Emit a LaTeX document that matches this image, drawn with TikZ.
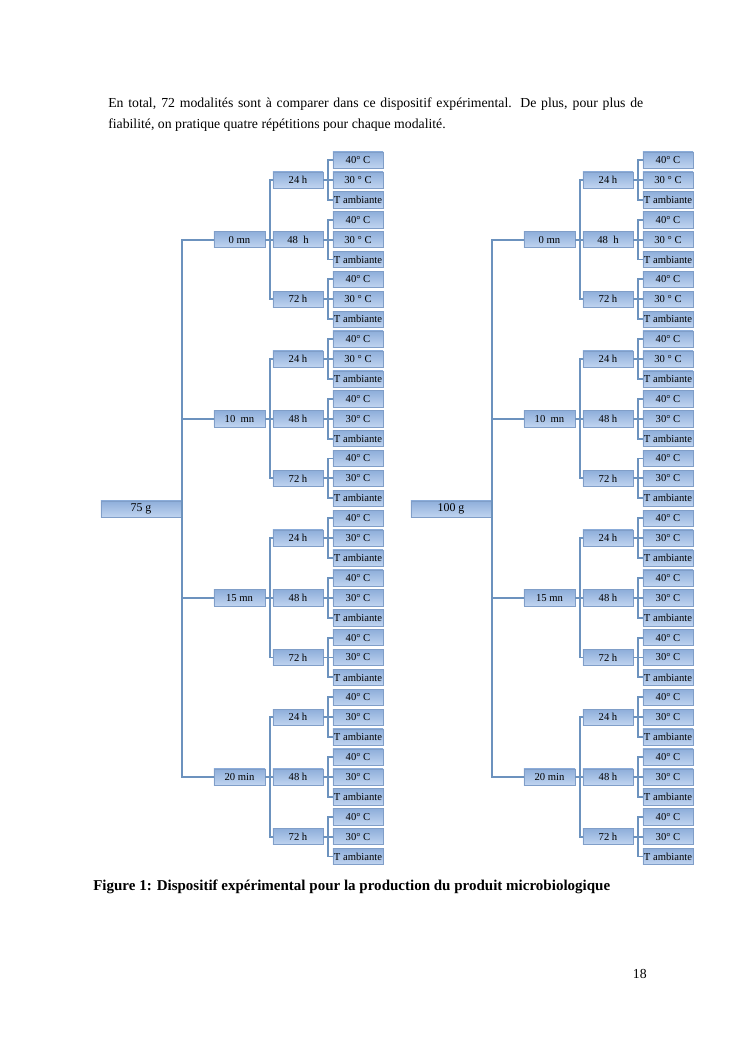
\documentclass[tikz,border=0pt]{standalone}
\usepackage{fontspec}
\setmainfont{Liberation Serif}
\definecolor{boxtop}{RGB}{142,174,218}
\definecolor{boxbot}{RGB}{192,212,240}
\definecolor{boxline}{RGB}{128,158,200}
\definecolor{linkcol}{RGB}{108,146,190}
\tikzset{
  cell/.style={draw=boxline, line width=0.4pt, top color=boxtop, bottom color=boxbot,
    minimum height=13pt, inner sep=0pt, font=\fontsize{8.5}{9}\selectfont},
  cellleaf/.style={cell, minimum width=40pt},
  cellhour/.style={cell, minimum width=40pt},
  celltime/.style={cell, minimum width=40.8pt},
  cellmass/.style={cell, minimum width=64pt, font=\fontsize{9.5}{10}\selectfont},
  textline/.style={anchor=base west, inner sep=0pt, font=\fontsize{11}{13}\selectfont}
}
\begin{document}
\begin{tikzpicture}[x=0.7992pt, y=-0.7992pt]
      \useasboundingbox (0,0) rectangle (745,1053);
      \node[textline] (para1) at (108,107) {\makebox[427.6pt][s]{En total, 72 modalités sont à comparer dans ce dispositif expérimental. De plus, pour plus de}};
      \node[textline] (para2) at (108,128) {fiabilité, on pratique quatre répétitions pour chaque modalité.};
      \node[textline, font=\bfseries\fontsize{12}{14}\selectfont] (caption) at (93,890) {Figure 1: Dispositif expérimental pour la production du produit microbiologique};
      \node[textline, anchor=base east] (pagenum) at (647,978) {18};
      \draw
        (141,509) node[cellmass] (l0){75 g}
        (239.5,239.6) node[celltime] (l1){0 mn}
        (239.5,418.7) node[celltime] (l2){10~ mn}
        (239.5,597.8) node[celltime] (l3){15 mn}
        (239.5,776.9) node[celltime] (l4){20 min}
        (298,179.9) node[cellhour] (l11){24 h}
        (298,239.6) node[cellhour] (l12){48~ h}
        (298,299.3) node[cellhour] (l13){72 h}
        (298,359.0) node[cellhour] (l21){24 h}
        (298,418.7) node[cellhour] (l22){48 h}
        (298,478.4) node[cellhour] (l23){72 h}
        (298,538.1) node[cellhour] (l31){24 h}
        (298,597.8) node[cellhour] (l32){48 h}
        (298,657.5) node[cellhour] (l33){72 h}
        (298,717.2) node[cellhour] (l41){24 h}
        (298,776.9) node[cellhour] (l42){48 h}
        (298,836.6) node[cellhour] (l43){72 h}
        (358,160.0) node[cellleaf] (l111){40° C}
        (358,179.9) node[cellleaf] (l112){30 ° C}
        (358,199.8) node[cellleaf] (l113){T ambiante}
        (358,219.7) node[cellleaf] (l121){40° C}
        (358,239.6) node[cellleaf] (l122){30 ° C}
        (358,259.5) node[cellleaf] (l123){T ambiante}
        (358,279.4) node[cellleaf] (l131){40° C}
        (358,299.3) node[cellleaf] (l132){30 ° C}
        (358,319.2) node[cellleaf] (l133){T ambiante}
        (358,339.1) node[cellleaf] (l211){40° C}
        (358,359.0) node[cellleaf] (l212){30 ° C}
        (358,378.9) node[cellleaf] (l213){T ambiante}
        (358,398.8) node[cellleaf] (l221){40° C}
        (358,418.7) node[cellleaf] (l222){30° C}
        (358,438.6) node[cellleaf] (l223){T ambiante}
        (358,458.5) node[cellleaf] (l231){40° C}
        (358,478.4) node[cellleaf] (l232){30° C}
        (358,498.3) node[cellleaf] (l233){T ambiante}
        (358,518.2) node[cellleaf] (l311){40° C}
        (358,538.1) node[cellleaf] (l312){30° C}
        (358,558.0) node[cellleaf] (l313){T ambiante}
        (358,577.9) node[cellleaf] (l321){40° C}
        (358,597.8) node[cellleaf] (l322){30° C}
        (358,617.7) node[cellleaf] (l323){T ambiante}
        (358,637.6) node[cellleaf] (l331){40° C}
        (358,657.5) node[cellleaf] (l332){30° C}
        (358,677.4) node[cellleaf] (l333){T ambiante}
        (358,697.3) node[cellleaf] (l411){40° C}
        (358,717.2) node[cellleaf] (l412){30° C}
        (358,737.1) node[cellleaf] (l413){T ambiante}
        (358,757.0) node[cellleaf] (l421){40° C}
        (358,776.9) node[cellleaf] (l422){30° C}
        (358,796.8) node[cellleaf] (l423){T ambiante}
        (358,816.7) node[cellleaf] (l431){40° C}
        (358,836.6) node[cellleaf] (l432){30° C}
        (358,856.5) node[cellleaf] (l433){T ambiante};
      \draw
        (451,509) node[cellmass] (r0){100 g}
        (549.5,239.6) node[celltime] (r1){0 mn}
        (549.5,418.7) node[celltime] (r2){10~ mn}
        (549.5,597.8) node[celltime] (r3){15 mn}
        (549.5,776.9) node[celltime] (r4){20 min}
        (608,179.9) node[cellhour] (r11){24 h}
        (608,239.6) node[cellhour] (r12){48~ h}
        (608,299.3) node[cellhour] (r13){72 h}
        (608,359.0) node[cellhour] (r21){24 h}
        (608,418.7) node[cellhour] (r22){48 h}
        (608,478.4) node[cellhour] (r23){72 h}
        (608,538.1) node[cellhour] (r31){24 h}
        (608,597.8) node[cellhour] (r32){48 h}
        (608,657.5) node[cellhour] (r33){72 h}
        (608,717.2) node[cellhour] (r41){24 h}
        (608,776.9) node[cellhour] (r42){48 h}
        (608,836.6) node[cellhour] (r43){72 h}
        (668,160.0) node[cellleaf] (r111){40° C}
        (668,179.9) node[cellleaf] (r112){30 ° C}
        (668,199.8) node[cellleaf] (r113){T ambiante}
        (668,219.7) node[cellleaf] (r121){40° C}
        (668,239.6) node[cellleaf] (r122){30 ° C}
        (668,259.5) node[cellleaf] (r123){T ambiante}
        (668,279.4) node[cellleaf] (r131){40° C}
        (668,299.3) node[cellleaf] (r132){30 ° C}
        (668,319.2) node[cellleaf] (r133){T ambiante}
        (668,339.1) node[cellleaf] (r211){40° C}
        (668,359.0) node[cellleaf] (r212){30 ° C}
        (668,378.9) node[cellleaf] (r213){T ambiante}
        (668,398.8) node[cellleaf] (r221){40° C}
        (668,418.7) node[cellleaf] (r222){30° C}
        (668,438.6) node[cellleaf] (r223){T ambiante}
        (668,458.5) node[cellleaf] (r231){40° C}
        (668,478.4) node[cellleaf] (r232){30° C}
        (668,498.3) node[cellleaf] (r233){T ambiante}
        (668,518.2) node[cellleaf] (r311){40° C}
        (668,538.1) node[cellleaf] (r312){30° C}
        (668,558.0) node[cellleaf] (r313){T ambiante}
        (668,577.9) node[cellleaf] (r321){40° C}
        (668,597.8) node[cellleaf] (r322){30° C}
        (668,617.7) node[cellleaf] (r323){T ambiante}
        (668,637.6) node[cellleaf] (r331){40° C}
        (668,657.5) node[cellleaf] (r332){30° C}
        (668,677.4) node[cellleaf] (r333){T ambiante}
        (668,697.3) node[cellleaf] (r411){40° C}
        (668,717.2) node[cellleaf] (r412){30° C}
        (668,737.1) node[cellleaf] (r413){T ambiante}
        (668,757.0) node[cellleaf] (r421){40° C}
        (668,776.9) node[cellleaf] (r422){30° C}
        (668,796.8) node[cellleaf] (r423){T ambiante}
        (668,816.7) node[cellleaf] (r431){40° C}
        (668,836.6) node[cellleaf] (r432){30° C}
        (668,856.5) node[cellleaf] (r433){T ambiante};
      \begin{scope}[color=linkcol, line width=1.5pt, to path={-- ++(1,0) |- (\tikztotarget)}]
        \draw (l0.east) to (l1.west);
        \draw (l0.east) to (l2.west);
        \draw (l0.east) to (l3.west);
        \draw (l0.east) to (l4.west);
        \draw (r0.east) to (r1.west);
        \draw (r0.east) to (r2.west);
        \draw (r0.east) to (r3.west);
        \draw (r0.east) to (r4.west);
      \end{scope}
      \begin{scope}[color=linkcol, line width=1.5pt, to path={-- ++(5,0) |- (\tikztotarget)}]
        \draw (l1.east) to (l11.west);
        \draw (l1.east) to (l12.west);
        \draw (l1.east) to (l13.west);
        \draw (l2.east) to (l21.west);
        \draw (l2.east) to (l22.west);
        \draw (l2.east) to (l23.west);
        \draw (l3.east) to (l31.west);
        \draw (l3.east) to (l32.west);
        \draw (l3.east) to (l33.west);
        \draw (l4.east) to (l41.west);
        \draw (l4.east) to (l42.west);
        \draw (l4.east) to (l43.west);
        \draw (l11.east) to (l111.west);
        \draw (l11.east) to (l112.west);
        \draw (l11.east) to (l113.west);
        \draw (l12.east) to (l121.west);
        \draw (l12.east) to (l122.west);
        \draw (l12.east) to (l123.west);
        \draw (l13.east) to (l131.west);
        \draw (l13.east) to (l132.west);
        \draw (l13.east) to (l133.west);
        \draw (l21.east) to (l211.west);
        \draw (l21.east) to (l212.west);
        \draw (l21.east) to (l213.west);
        \draw (l22.east) to (l221.west);
        \draw (l22.east) to (l222.west);
        \draw (l22.east) to (l223.west);
        \draw (l23.east) to (l231.west);
        \draw (l23.east) to (l232.west);
        \draw (l23.east) to (l233.west);
        \draw (l31.east) to (l311.west);
        \draw (l31.east) to (l312.west);
        \draw (l31.east) to (l313.west);
        \draw (l32.east) to (l321.west);
        \draw (l32.east) to (l322.west);
        \draw (l32.east) to (l323.west);
        \draw (l33.east) to (l331.west);
        \draw (l33.east) to (l332.west);
        \draw (l33.east) to (l333.west);
        \draw (l41.east) to (l411.west);
        \draw (l41.east) to (l412.west);
        \draw (l41.east) to (l413.west);
        \draw (l42.east) to (l421.west);
        \draw (l42.east) to (l422.west);
        \draw (l42.east) to (l423.west);
        \draw (l43.east) to (l431.west);
        \draw (l43.east) to (l432.west);
        \draw (l43.east) to (l433.west);
        \draw (r1.east) to (r11.west);
        \draw (r1.east) to (r12.west);
        \draw (r1.east) to (r13.west);
        \draw (r2.east) to (r21.west);
        \draw (r2.east) to (r22.west);
        \draw (r2.east) to (r23.west);
        \draw (r3.east) to (r31.west);
        \draw (r3.east) to (r32.west);
        \draw (r3.east) to (r33.west);
        \draw (r4.east) to (r41.west);
        \draw (r4.east) to (r42.west);
        \draw (r4.east) to (r43.west);
        \draw (r11.east) to (r111.west);
        \draw (r11.east) to (r112.west);
        \draw (r11.east) to (r113.west);
        \draw (r12.east) to (r121.west);
        \draw (r12.east) to (r122.west);
        \draw (r12.east) to (r123.west);
        \draw (r13.east) to (r131.west);
        \draw (r13.east) to (r132.west);
        \draw (r13.east) to (r133.west);
        \draw (r21.east) to (r211.west);
        \draw (r21.east) to (r212.west);
        \draw (r21.east) to (r213.west);
        \draw (r22.east) to (r221.west);
        \draw (r22.east) to (r222.west);
        \draw (r22.east) to (r223.west);
        \draw (r23.east) to (r231.west);
        \draw (r23.east) to (r232.west);
        \draw (r23.east) to (r233.west);
        \draw (r31.east) to (r311.west);
        \draw (r31.east) to (r312.west);
        \draw (r31.east) to (r313.west);
        \draw (r32.east) to (r321.west);
        \draw (r32.east) to (r322.west);
        \draw (r32.east) to (r323.west);
        \draw (r33.east) to (r331.west);
        \draw (r33.east) to (r332.west);
        \draw (r33.east) to (r333.west);
        \draw (r41.east) to (r411.west);
        \draw (r41.east) to (r412.west);
        \draw (r41.east) to (r413.west);
        \draw (r42.east) to (r421.west);
        \draw (r42.east) to (r422.west);
        \draw (r42.east) to (r423.west);
        \draw (r43.east) to (r431.west);
        \draw (r43.east) to (r432.west);
        \draw (r43.east) to (r433.west);
      \end{scope}
    \end{tikzpicture}
\end{document}
